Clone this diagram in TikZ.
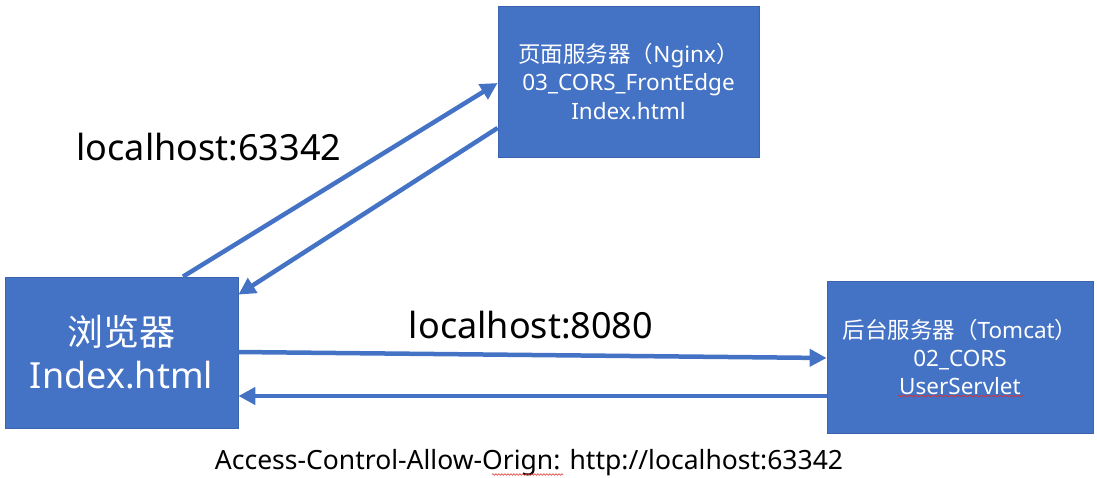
\documentclass[tikz,border=0pt]{standalone}
\usepackage{fontspec}
\setmainfont{Noto Sans}
\newfontfamily\cjk{Noto Sans CJK SC}
\usetikzlibrary{arrows.meta,decorations.pathmorphing}
\definecolor{boxblue}{HTML}{4472C4}
\definecolor{boxedge}{HTML}{3A64B0}
\definecolor{squig}{HTML}{E03030}
\tikzset{
  srv/.style={draw=boxedge,line width=0.8pt,fill=boxblue,inner sep=0pt,align=center,text=white},
  conn/.style={draw=boxblue,line width=4.5pt,-{Triangle[length=17pt,width=17pt]}},
  lbl/.style={inner sep=0pt,text=black},
  wavy/.style={draw=squig,line width=0.6pt,decorate,decoration={snake,amplitude=0.8pt,segment length=3pt}}
}
\begin{document}
\begin{tikzpicture}[x=1pt,y=-1pt]
\useasboundingbox (0,0) rectangle (1097,477);
\node[srv,minimum width=233pt,minimum height=151pt,font=\fontsize{36}{43}\selectfont] (b) at (121.5,352.5)
  {{\cjk 浏览器}\\Index.html};
\node[srv,minimum width=261pt,minimum height=151pt,font=\fontsize{22.5}{28.5}\selectfont] (n) at (628.5,81.5)
  {{\cjk 页面服务器（}Nginx{\cjk ）}\\03\_CORS\_FrontEdge\\Index.html};
\node[srv,minimum width=266pt,minimum height=152pt,font=\fontsize{22.5}{28}\selectfont] (t) at (960,357)
  {{\cjk 后台服务器（}Tomcat{\cjk ）}\\02\_CORS\\UserServlet};
\node[lbl,font=\fontsize{36}{40}\selectfont] (l1) at (209,147) {localhost:63342};
\node[lbl,font=\fontsize{36}{40}\selectfont] (l2) at (531,325) {localhost:8080};
\node[lbl,font=\fontsize{26.5}{30}\selectfont] (l3) at (529,463) {Access-Control-Allow-Orign: http://localhost:63342};
\draw[conn] ([xshift=61.5pt]b.north) -- ([yshift=-1.5pt]n.west);
\draw[conn] ([yshift=-46.5pt]n.west) -- ([yshift=-18pt]b.north east);
\draw[conn] ([yshift=0.5pt]b.east) -- ([yshift=-1pt]t.west);
\draw[conn] ([yshift=-39pt]t.west) -- ([yshift=-43.5pt]b.east);
\coordinate (w1a) at (898,396);
\coordinate (w1b) at (1023,396);
\draw[wavy] (w1a) -- (w1b);
\coordinate (w2a) at (492,474.5);
\coordinate (w2b) at (563,474.5);
\draw[wavy] (w2a) -- (w2b);
\end{tikzpicture}
\end{document}
